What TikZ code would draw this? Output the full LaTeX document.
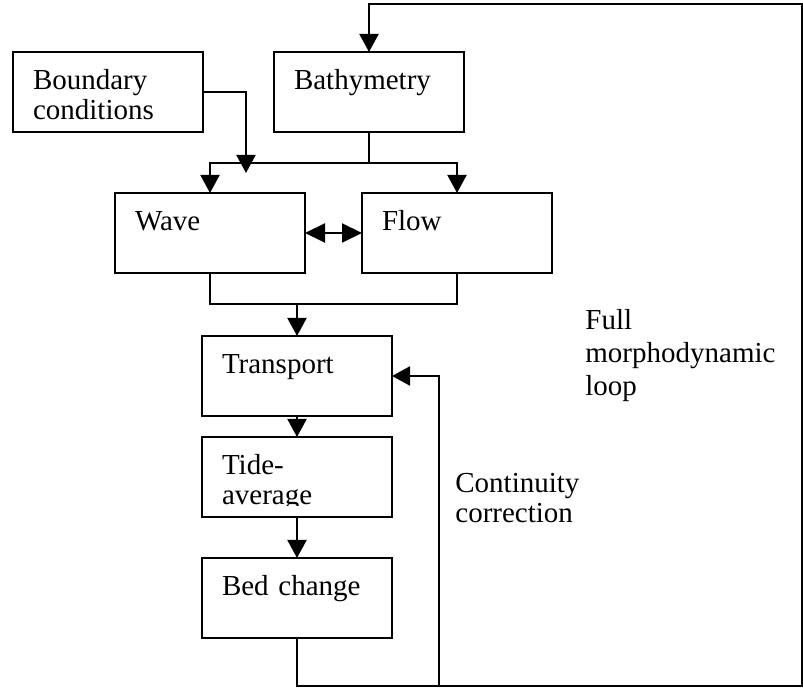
\documentclass[tikz,border=0pt]{standalone}
\usepackage{fontspec}
\setmainfont{Liberation Serif}
\usetikzlibrary{arrows.meta}

\tikzset{box_style/.style={draw, line width=1pt, anchor=north west, inner xsep=10pt, inner ysep=0pt, outer sep=0pt,
    text width=75pt, align=left, text height=19pt, text depth=21pt, font=\fontsize{14.5}{15}\selectfont}}
\tikzset{arr_style/.style={line width=1pt, -{Triangle[width=9.5pt,length=9pt]}}}
\tikzset{lbl_style/.style={anchor=base west, inner sep=0pt, text width=110pt, align=left}}

\begin{document}
\begin{tikzpicture}[x=0.5pt, y=-0.5pt]
    \useasboundingbox (0,0) rectangle (803,688);

    \node[box_style] (bound) at (13,52) {Boundary\\conditions};
    \node[box_style] (bathy) at (274,52) {Bathymetry};
    \node[box_style] (wave) at (115,193) {Wave};
    \node[box_style] (flow) at (362,193) {Flow};
    \node[box_style] (trans) at (202,336) {Transport};
    \begin{scope}
        \clip (202,437) rectangle (392,506);
        \node[box_style] (tide) at (202,437) {Tide-\\average};
    \end{scope}
    \draw[line width=1pt] (tide.north west) rectangle (tide.south east);
    \node[box_style] (bed) at (202,558) {Bed change};

    \node[lbl_style, font=\fontsize{14.5}{16.5}\selectfont] (full) at (585,330) {Full\\morphodynamic\\loop};
    \node[lbl_style, font=\fontsize{14.5}{15}\selectfont] (cont) at (455,493) {Continuity\\correction};

    \coordinate (split) at (bathy.south |- 0,163);
    \coordinate (merge) at (trans.north |- 0,304);
    \coordinate (bc_end) at (246,173);
    \coordinate (loop_b) at (802,686);
    \coordinate (loop_t) at (802,4);
    \coordinate (cont_b) at (439,686);

    \draw[arr_style] (bound.east) -| (bc_end);
    \draw[line width=1pt] (bathy.south) -- (split);
    \draw[arr_style] (split) -| (wave.north);
    \draw[arr_style] (split) -| (flow.north);
    \draw[line width=1pt, {Triangle[width=9.5pt,length=10pt]}-{Triangle[width=9.5pt,length=10pt]}] (wave.east) -- (flow.west);
    \draw[line width=1pt] (wave.south) |- (merge) -| (flow.south);
    \draw[arr_style] (merge) -- (trans.north);
    \draw[arr_style] (trans.south) -- (tide.north);
    \draw[arr_style] (tide.south) -- (bed.north);
    \draw[arr_style] (bed.south) |- (loop_b) -- (loop_t) -| (bathy.north);
    \draw[arr_style] (cont_b) |- (trans.east);

\end{tikzpicture}
\end{document}
